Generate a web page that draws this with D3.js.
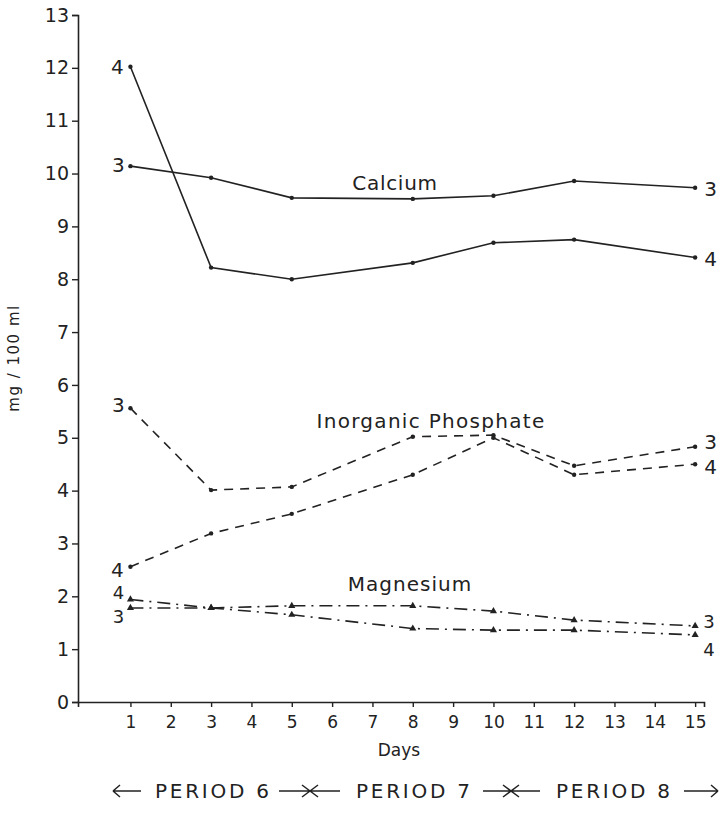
<!DOCTYPE html>
<html>
<head>
<meta charset="utf-8">
<script src="https://cdn.jsdelivr.net/npm/d3@7"></script>
<style>
  body { margin: 0; background: #fff; }
  svg text { font-family: "DejaVu Sans", sans-serif; fill: #222; }
</style>
</head>
<body>
<script>
// days sampled
var days = [1, 3, 5, 8, 10, 12, 15];

// serum values, mg / 100 ml (series 3 and 4)
var calcium3 = [10.14, 9.92, 9.54, 9.52, 9.58, 9.86, 9.73];
var calcium4 = [12.02, 8.22, 8.0, 8.31, 8.69, 8.75, 8.41];
var phosphate3 = [5.56, 4.01, 4.07, 5.02, 5.05, 4.47, 4.83];
var phosphate4 = [2.56, 3.19, 3.56, 4.30, 5.0, 4.30, 4.50];
var magnesium3 = [1.78, 1.78, 1.82, 1.82, 1.72, 1.55, 1.44];
var magnesium4 = [1.94, 1.78, 1.65, 1.39, 1.36, 1.36, 1.27];

var yTicks = d3.range(0, 14);
var xTicks = d3.range(1, 16);
var periods = ['PERIOD 6', 'PERIOD 7', 'PERIOD 8'];

var width = 722, height = 818;

var x = d3.scaleLinear().domain([-0.3, 15.22]).range([78, 704]);
var y = d3.scaleLinear().domain([0, 13]).range([702, 15]);

var svg = d3.select('body').append('svg')
  .attr('width', width)
  .attr('height', height);

// axes
var yAxis = svg.append('g')
  .attr('transform', 'translate(78,0)')
  .call(d3.axisLeft(y).tickValues(yTicks).tickSizeOuter(0).tickSize(6).tickPadding(3));
var xAxis = svg.append('g')
  .attr('transform', 'translate(0,702)')
  .call(d3.axisBottom(x).tickValues(xTicks).tickSizeOuter(0).tickSize(5).tickPadding(9));

[yAxis, xAxis].forEach(function(g) {
  g.select('.domain').attr('stroke', '#222').attr('stroke-width', 1.6);
  g.selectAll('.tick line').attr('stroke', '#222').attr('stroke-width', 1.4);
  g.selectAll('.tick text').attr('fill', '#222');
});
yAxis.selectAll('.tick text').attr('font-size', 19);
xAxis.selectAll('.tick text').attr('font-size', 17).attr('font-family', '"DejaVu Sans Condensed", "DejaVu Sans", sans-serif');

svg.append('text')
  .attr('transform', 'translate(19,358) rotate(-90)')
  .attr('text-anchor', 'middle')
  .attr('font-size', 15)
  .attr('letter-spacing', 1.5)
  .text('mg / 100 ml');

svg.append('text')
  .attr('x', 399).attr('y', 756)
  .attr('text-anchor', 'middle')
  .attr('font-size', 17)
  .text('Days');

// series
var series = [
  { vals: calcium3, dash: null, mark: 'dot', lab: '3', fs: 20, l: [-12, 6], r: [9, 8] },
  { vals: calcium4, dash: null, mark: 'dot', lab: '4', fs: 20, l: [-13, 7], r: [9, 8] },
  { vals: phosphate3, dash: '9,7', mark: 'dot', lab: '3', fs: 20, l: [-12, 4], r: [9, 2] },
  { vals: phosphate4, dash: '9,7', mark: 'dot', lab: '4', fs: 20, l: [-13, 10], r: [9, 10] },
  { vals: magnesium3, dash: '13,6,2,6', mark: 'tri', lab: '3', fs: 18, l: [-12, 15], r: [8, 2] },
  { vals: magnesium4, dash: '13,6,2,6', mark: 'tri', lab: '4', fs: 18, l: [-12, 0], r: [8, 21] }
];

var line = d3.line()
  .x(function(d, i) { return x(days[i]); })
  .y(function(d) { return y(d); });

var gEnter = svg.selectAll('.series')
  .data(series)
  .enter()
  .append('g')
  .attr('class', 'series');

gEnter.append('path')
  .attr('d', function(d) { return line(d.vals); })
  .attr('fill', 'none')
  .attr('stroke', '#222')
  .attr('stroke-width', 1.6)
  .attr('stroke-dasharray', function(d) { return d.dash; });

gEnter.each(function(s) {
  var g = d3.select(this);
  if (s.mark === 'dot') {
    g.selectAll('circle').data(s.vals).enter().append('circle')
      .attr('cx', function(d, i) { return x(days[i]); })
      .attr('cy', function(d) { return y(d); })
      .attr('r', 2.2)
      .attr('fill', '#222');
  } else {
    g.selectAll('.tri').data(s.vals).enter().append('path')
      .attr('class', 'tri')
      .attr('transform', function(d, i) { return 'translate(' + x(days[i]) + ',' + y(d) + ')'; })
      .attr('d', d3.symbol().type(d3.symbolTriangle).size(22))
      .attr('fill', '#222');
  }
  g.append('text')
    .attr('x', x(days[0]) + s.l[0])
    .attr('y', y(s.vals[0]) + s.l[1])
    .attr('text-anchor', 'middle')
    .attr('font-size', s.fs)
    .text(s.lab);
  g.append('text')
    .attr('x', x(days[days.length - 1]) + s.r[0])
    .attr('y', y(s.vals[s.vals.length - 1]) + s.r[1])
    .attr('text-anchor', 'start')
    .attr('font-size', s.fs)
    .text(s.lab);
});

// series names
svg.append('text').attr('x', 395).attr('y', 190).attr('text-anchor', 'middle')
  .attr('font-size', 20).attr('letter-spacing', 0.7).text('Calcium');
svg.append('text').attr('x', 431).attr('y', 428).attr('text-anchor', 'middle')
  .attr('font-size', 20).attr('letter-spacing', 1.3).text('Inorganic  Phosphate');
svg.append('text').attr('x', 410).attr('y', 591).attr('text-anchor', 'middle')
  .attr('font-size', 20).attr('letter-spacing', 1).text('Magnesium');

// period strip
var py = 791;
var pg = svg.append('g').attr('stroke', '#222').attr('stroke-width', 1.5).attr('fill', 'none');
pg.append('path').attr('d', 'M113,' + py + 'H141 M113,' + py + 'l7,-6 M113,' + py + 'l7,6');
pg.append('path').attr('d', 'M684,' + py + 'H718 M718,' + py + 'l-7,-6 M718,' + py + 'l-7,6');
[[279, 340, 310], [483, 540, 511]].forEach(function(s) {
  pg.append('path').attr('d', 'M' + s[0] + ',' + py + 'H' + s[1] +
    ' M' + (s[2] - 8) + ',' + (py - 6) + 'L' + (s[2] + 8) + ',' + (py + 6) +
    ' M' + (s[2] - 8) + ',' + (py + 6) + 'L' + (s[2] + 8) + ',' + (py - 6));
});
var periodX = [155, 356, 556];
svg.selectAll('.period').data(periods).enter().append('text')
  .attr('class', 'period')
  .attr('x', function(d, i) { return periodX[i]; })
  .attr('y', py + 7)
  .attr('font-size', 20)
  .attr('textLength', 114)
  .attr('lengthAdjust', 'spacing')
  .text(function(d) { return d; });
</script>
</body>
</html>
